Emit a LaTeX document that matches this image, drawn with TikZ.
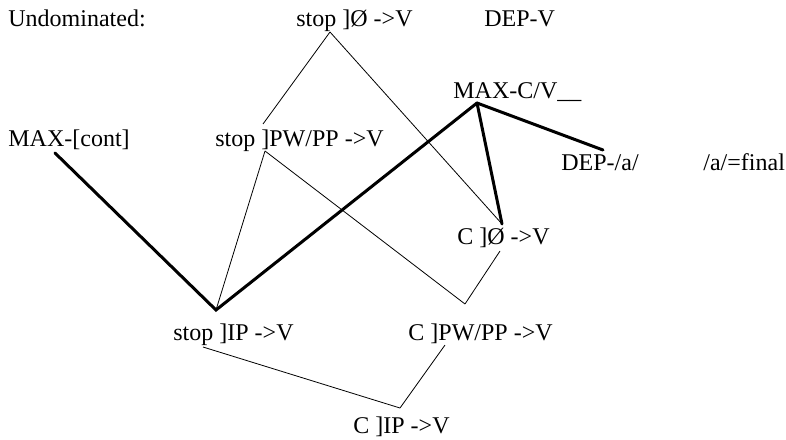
\documentclass[tikz,border=0pt]{standalone}
\usepackage{fontspec}
\setmainfont{Liberation Serif}
\usepackage{tikz}
\usetikzlibrary{calc,positioning}
\tikzset{lbl/.style={anchor=base west, inner sep=0pt, font=\fontsize{12pt}{14pt}\selectfont},
  weak/.style={line width=0.4pt},
  strong/.style={line width=1.5pt, line cap=round}
}

\begin{document}
\begin{tikzpicture}[x=0.5pt, y=-0.5pt]
    \useasboundingbox (0,0) rectangle (786,439);
    % constraint names
    \node[lbl] (undom) at (8,26) {Undominated:};
    \node[lbl] (stopO) at (296,26) {stop ]Ø ->V};
    \node[lbl] (depV) at (484,26) {DEP-V};
    \node[lbl] (maxcont) at (8,146) {MAX-[cont]};
    \node[lbl] (stopPW) at (215,146) {stop ]PW/PP ->V};
    \node[lbl] (maxCV) at (453,98) {MAX-C/V\_\_};
    \node[lbl] (depa) at (561,170) {DEP-/a/};
    \node[lbl] (afinal) at (703,170) {/a/=final};
    \node[lbl] (cO) at (457,244) {C ]Ø ->V};
    \node[lbl] (stopIP) at (173,340) {stop ]IP ->V};
    \node[lbl] (cPW) at (408,340) {C ]PW/PP ->V};
    \node[lbl] (cIP) at (353,433) {C ]IP ->V};
    % attachment points
    \coordinate (stopO-b) at (330,32);
    \coordinate (stopPW-t) at (263,124);
    \coordinate (stopPW-b) at (265,151);
    \coordinate (maxcont-b) at (55,153);
    \coordinate (maxCV-b) at (477,103);
    \coordinate (depa-t) at (603,150);
    \coordinate (cO-t) at (502,224);
    \coordinate (cO-b) at (500,251);
    \coordinate (stopIP-t) at (216,310);
    \coordinate (stopIP-b) at (203,347);
    \coordinate (cPW-t) at (465,304);
    \coordinate (cPW-b) at (445,345);
    \coordinate (cIP-t) at (400,408);
    % rankings
    \draw[weak] (stopO-b) -- (stopPW-t);
    \draw[weak] (stopO-b) -- (cO-t);
    \draw[weak] (stopPW-b) -- (stopIP-t);
    \draw[weak] (stopPW-b) -- (cPW-t);
    \draw[weak] (cO-b) -- (cPW-t);
    \draw[weak] (stopIP-b) -- (cIP-t);
    \draw[weak] (cPW-b) -- (cIP-t);
    \draw[strong] (maxcont-b) -- (stopIP-t) -- (maxCV-b);
    \draw[strong] (maxCV-b) -- (cO-t);
    \draw[strong] (maxCV-b) -- (depa-t);
\end{tikzpicture}
\end{document}
